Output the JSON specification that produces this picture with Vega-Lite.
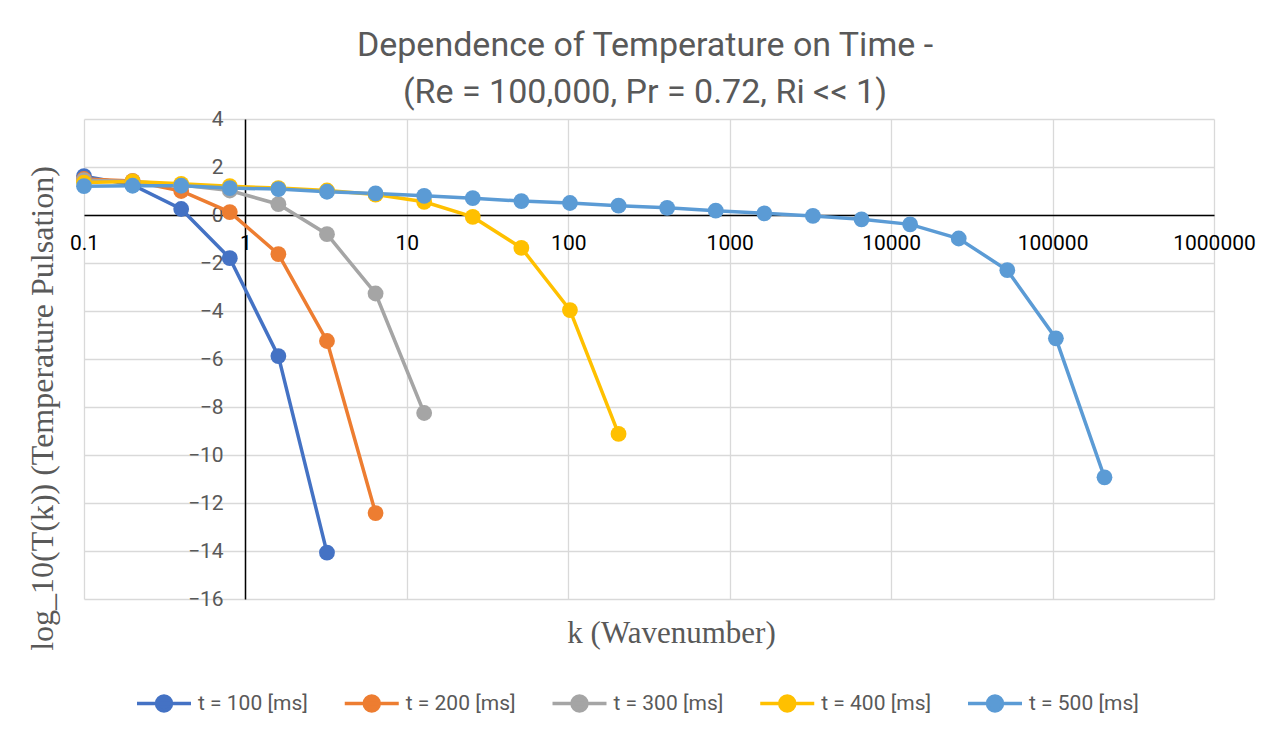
{
  "$schema": "https://vega.github.io/schema/vega-lite/v6.json",
  "width": 1130,
  "height": 480,
  "autosize": "none",
  "padding": {"left": 84, "top": 119, "right": 62, "bottom": 143},
  "background": "white",
  "config": {"view": {"stroke": null}, "font": "Roboto"},
  "title": {
    "text": ["Dependence of Temperature on Time -", "(Re = 100,000, Pr = 0.72, Ri << 1)"],
    "font": "Roboto",
    "fontSize": 34,
    "fontWeight": "normal",
    "color": "#595959",
    "lineHeight": 47,
    "anchor": "middle",
    "offset": -2,
    "dx": -4
  },
  "data": {
    "values": [
      {"series": "t = 100 [ms]", "k": 0.1, "v": 1.62},
      {"series": "t = 100 [ms]", "k": 0.2, "v": 1.25},
      {"series": "t = 100 [ms]", "k": 0.4, "v": 0.25},
      {"series": "t = 100 [ms]", "k": 0.8, "v": -1.8},
      {"series": "t = 100 [ms]", "k": 1.6, "v": -5.88},
      {"series": "t = 100 [ms]", "k": 3.2, "v": -14.07},
      {"series": "t = 200 [ms]", "k": 0.1, "v": 1.5},
      {"series": "t = 200 [ms]", "k": 0.2, "v": 1.42},
      {"series": "t = 200 [ms]", "k": 0.4, "v": 1.0},
      {"series": "t = 200 [ms]", "k": 0.8, "v": 0.12},
      {"series": "t = 200 [ms]", "k": 1.6, "v": -1.63},
      {"series": "t = 200 [ms]", "k": 3.2, "v": -5.25},
      {"series": "t = 200 [ms]", "k": 6.4, "v": -12.42},
      {"series": "t = 300 [ms]", "k": 0.1, "v": 1.45},
      {"series": "t = 300 [ms]", "k": 0.2, "v": 1.4},
      {"series": "t = 300 [ms]", "k": 0.4, "v": 1.25},
      {"series": "t = 300 [ms]", "k": 0.8, "v": 1.02},
      {"series": "t = 300 [ms]", "k": 1.6, "v": 0.45},
      {"series": "t = 300 [ms]", "k": 3.2, "v": -0.8},
      {"series": "t = 300 [ms]", "k": 6.4, "v": -3.27},
      {"series": "t = 300 [ms]", "k": 12.8, "v": -8.25},
      {"series": "t = 400 [ms]", "k": 0.1, "v": 1.35},
      {"series": "t = 400 [ms]", "k": 0.2, "v": 1.4},
      {"series": "t = 400 [ms]", "k": 0.4, "v": 1.3},
      {"series": "t = 400 [ms]", "k": 0.8, "v": 1.2},
      {"series": "t = 400 [ms]", "k": 1.6, "v": 1.12},
      {"series": "t = 400 [ms]", "k": 3.2, "v": 1.02},
      {"series": "t = 400 [ms]", "k": 6.4, "v": 0.85},
      {"series": "t = 400 [ms]", "k": 12.8, "v": 0.55},
      {"series": "t = 400 [ms]", "k": 25.6, "v": -0.08},
      {"series": "t = 400 [ms]", "k": 51.2, "v": -1.37},
      {"series": "t = 400 [ms]", "k": 102.4, "v": -3.96},
      {"series": "t = 400 [ms]", "k": 204.8, "v": -9.12},
      {"series": "t = 500 [ms]", "k": 0.1, "v": 1.2},
      {"series": "t = 500 [ms]", "k": 0.2, "v": 1.22},
      {"series": "t = 500 [ms]", "k": 0.4, "v": 1.22},
      {"series": "t = 500 [ms]", "k": 0.8, "v": 1.12},
      {"series": "t = 500 [ms]", "k": 1.6, "v": 1.08},
      {"series": "t = 500 [ms]", "k": 3.2, "v": 0.97},
      {"series": "t = 500 [ms]", "k": 6.4, "v": 0.9},
      {"series": "t = 500 [ms]", "k": 12.8, "v": 0.8},
      {"series": "t = 500 [ms]", "k": 25.6, "v": 0.7},
      {"series": "t = 500 [ms]", "k": 51.2, "v": 0.58},
      {"series": "t = 500 [ms]", "k": 102.4, "v": 0.5},
      {"series": "t = 500 [ms]", "k": 204.8, "v": 0.39},
      {"series": "t = 500 [ms]", "k": 409.6, "v": 0.3},
      {"series": "t = 500 [ms]", "k": 819.2, "v": 0.18},
      {"series": "t = 500 [ms]", "k": 1638.4, "v": 0.07},
      {"series": "t = 500 [ms]", "k": 3276.8, "v": -0.04},
      {"series": "t = 500 [ms]", "k": 6553.6, "v": -0.18},
      {"series": "t = 500 [ms]", "k": 13107.2, "v": -0.39},
      {"series": "t = 500 [ms]", "k": 26214.4, "v": -0.98},
      {"series": "t = 500 [ms]", "k": 52428.8, "v": -2.3},
      {"series": "t = 500 [ms]", "k": 104857.6, "v": -5.14},
      {"series": "t = 500 [ms]", "k": 209715.2, "v": -10.93}
    ]
  },
  "encoding": {
    "x": {
      "field": "k",
      "type": "quantitative",
      "scale": {"type": "log", "domain": [0.1, 1000000], "nice": false},
      "axis": {
        "values": [0.1, 1, 10, 100, 1000, 10000, 100000, 1000000],
        "format": ".7~r",
        "orient": "bottom",
        "offset": -384,
        "grid": true,
        "gridColor": "#D9D9D9",
        "gridWidth": 1.3,
        "domainColor": "#000000",
        "domainWidth": 1.5,
        "ticks": false,
        "labelFont": "Roboto",
        "labelFontSize": 21,
        "labelColor": "#000000",
        "labelPadding": 17,
        "labelFlush": false,
        "labelOverlap": false,
        "title": "k (Wavenumber)",
        "titleFont": "Liberation Serif",
        "titleFontSize": 31,
        "titleFontWeight": "normal",
        "titleColor": "#595959",
        "titleX": 587,
        "titleY": 427,
        "titleBaseline": "alphabetic",
        "titleAlign": "center"
      }
    },
    "y": {
      "field": "v",
      "type": "quantitative",
      "scale": {"domain": [-16, 4], "nice": false, "zero": false},
      "axis": {
        "values": [-16, -14, -12, -10, -8, -6, -4, -2, 0, 2, 4],
        "orient": "left",
        "offset": -161,
        "grid": true,
        "gridColor": "#D9D9D9",
        "gridWidth": 1.3,
        "domainColor": "#000000",
        "domainWidth": 1.5,
        "ticks": false,
        "labelFont": "Roboto",
        "labelFontSize": 21,
        "labelColor": "#595959",
        "labelPadding": 22,
        "labelFlush": false,
        "labelOverlap": false,
        "title": "log_10(T(k)) (Temperature Pulsation)",
        "titleFont": "Liberation Serif",
        "titleFontSize": 32,
        "titleFontWeight": "normal",
        "titleColor": "#595959",
        "titleX": -203,
        "titleY": 289,
        "titleBaseline": "middle",
        "titleAlign": "center",
        "titleAngle": -90
      }
    },
    "color": {
      "field": "series",
      "type": "nominal",
      "scale": {
        "domain": ["t = 100 [ms]", "t = 200 [ms]", "t = 300 [ms]", "t = 400 [ms]", "t = 500 [ms]"],
        "range": ["#4472C4", "#ED7D31", "#A5A5A5", "#FFC000", "#5B9BD5"]
      },
      "legend": {
        "title": null,
        "orient": "none",
        "legendX": 69.5,
        "legendY": 574,
        "direction": "horizontal",
        "columns": 5,
        "symbolType": "M-3.6,0L3.6,0M-1,0A1,1,0,1,1,1,0A1,1,0,1,1,-1,0Z",
        "symbolSize": 225,
        "symbolStrokeWidth": 3.5,
        "symbolOpacity": 1,
        "labelFont": "Roboto",
        "labelFontSize": 21,
        "labelColor": "#595959",
        "labelOffset": 23.5,
        "columnPadding": 28.75,
        "padding": 0
      }
    }
  },
  "layer": [
    {"mark": {"type": "line", "strokeWidth": 3.5}},
    {"mark": {"type": "point", "filled": true, "size": 250, "opacity": 1}}
  ]
}
